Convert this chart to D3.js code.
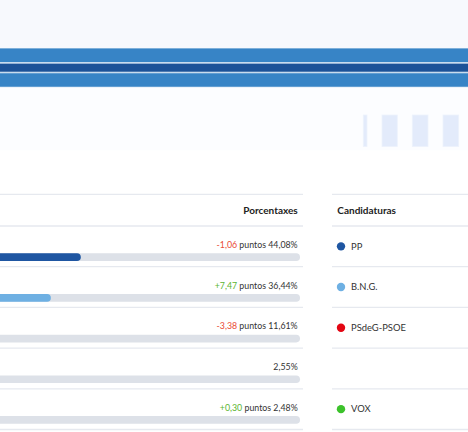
<!DOCTYPE html>
<html>
<head>
<meta charset="utf-8">
<script src="https://cdn.jsdelivr.net/npm/d3@7"></script>
<style>
  html, body { margin: 0; padding: 0; background: #fff; }
  svg { display: block; font-family: Lato, "Open Sans", sans-serif; }
</style>
</head>
<body>
<svg class="chart" width="468" height="432"></svg>
<script>
// datos (resultados por candidatura)
const parties = ["PP", "B.N.G.", "PSdeG-PSOE", "", "VOX"];
const percents = [44.08, 36.44, 11.61, 2.55, 2.48];
const diffs = [-1.06, 7.47, -3.38, null, 0.30];
const partyColors = ["#1f56a2", "#6eb0e3", "#e30613", "#c9cdd4", "#3cc22b"];

const svg = d3.select(".chart");
const width = +svg.attr("width");

const locale = d3.formatLocale({ decimal: ",", thousands: ".", grouping: [3], currency: ["", "€"], minus: "-" });
const fmt = locale.format(".2f");
const fmtDiff = locale.format("+.2f");

// cabecera (bandas azules)
svg.append("rect").attr("width", width).attr("height", 48).attr("fill", "#f7f9fd");
svg.append("rect").attr("y", 48).attr("width", width).attr("height", 40).attr("fill", "#c9dcee");
svg.append("rect").attr("y", 48.5).attr("width", width).attr("height", 13.5).attr("fill", "#3784c6");
svg.append("rect").attr("y", 63.7).attr("width", width).attr("height", 8).attr("fill", "#1c5298");
svg.append("rect").attr("y", 73.3).attr("width", width).attr("height", 13.4).attr("fill", "#3784c6");
svg.append("rect").attr("y", 87.3).attr("width", width).attr("height", 63).attr("fill", "#fcfdff");

// pestanas decorativas
const tabs = [[363.3, 3.7], [382, 15.3], [412.3, 15.7], [443, 15.7]];
svg.selectAll(".tab").data(tabs).join("rect")
  .attr("class", "tab")
  .attr("x", d => d[0]).attr("y", 115)
  .attr("width", d => d[1]).attr("height", 31.5)
  .attr("fill", "#e3ebfb")
  .attr("stroke", "#edf2fc").attr("stroke-width", 0.8);

// tabla
const headerTop = 194.3;
const headerBottom = 226;
const rowH = 40.7;

const x = d3.scaleLinear().domain([0, 100]).range([-92, 300]);
const y = d3.scaleBand().domain(d3.range(parties.length))
  .range([headerBottom, headerBottom + rowH * parties.length]);

const lineColor = "#e6e9ef";

// lineas de la tabla izquierda y derecha
const lineYs = [headerTop, headerBottom].concat(d3.range(parties.length).map(i => y(i) + rowH));
const grid = svg.append("g");
lineYs.forEach(ly => {
  grid.append("line").attr("x1", -10).attr("x2", 303).attr("y1", ly).attr("y2", ly)
    .attr("stroke", lineColor).attr("stroke-width", 1.3);
  grid.append("line").attr("x1", 332).attr("x2", width + 10).attr("y1", ly).attr("y2", ly)
    .attr("stroke", lineColor).attr("stroke-width", 1.3);
});

svg.append("text")
  .attr("x", 297.7).attr("y", 214.3)
  .attr("text-anchor", "end")
  .attr("font-size", 10).attr("font-weight", 700).attr("fill", "#222")
  .text("Porcentaxes");

svg.append("text")
  .attr("x", 337.3).attr("y", 214.3)
  .attr("font-size", 10).attr("font-weight", 700).attr("fill", "#222")
  .text("Candidaturas");

const rows = svg.selectAll(".row").data(percents).join("g")
  .attr("class", "row")
  .attr("transform", (d, i) => `translate(0, ${y(i)})`);

// pista gris
rows.append("rect")
  .attr("x", x(0)).attr("y", 27.3)
  .attr("width", x(100) - x(0)).attr("height", 7.7)
  .attr("rx", 3.8)
  .attr("fill", "#dde1e8");

// barra de porcentaje
rows.append("rect")
  .attr("x", x(0)).attr("y", 27.3)
  .attr("width", d => x(d) - x(0)).attr("height", 7.7)
  .attr("rx", 3.8)
  .attr("fill", (d, i) => partyColors[i]);

// texto de valores
const label = rows.append("text")
  .attr("x", 297.7).attr("y", 22)
  .attr("text-anchor", "end")
  .attr("font-size", 8.8).attr("fill", "#333");

label.each(function (d, i) {
  const t = d3.select(this);
  if (diffs[i] !== null) {
    t.append("tspan")
      .attr("fill", diffs[i] < 0 ? "#ea4b35" : "#5bb531")
      .text(fmtDiff(diffs[i]));
    t.append("tspan").text(" puntos ");
  }
  t.append("tspan").text(fmt(d) + "%");
});

// leyenda de candidaturas
const cand = svg.selectAll(".cand").data(parties).join("g")
  .attr("class", "cand")
  .attr("transform", (d, i) => `translate(0, ${y(i) + rowH / 2})`)
  .filter(d => d !== "");

cand.append("circle")
  .attr("cx", 341).attr("cy", 0).attr("r", 4.2)
  .attr("fill", (d) => partyColors[parties.indexOf(d)]);

cand.append("text")
  .attr("x", 351).attr("y", 3.3)
  .attr("font-size", 9.4).attr("fill", "#333")
  .text(d => d);
</script>
</body>
</html>
